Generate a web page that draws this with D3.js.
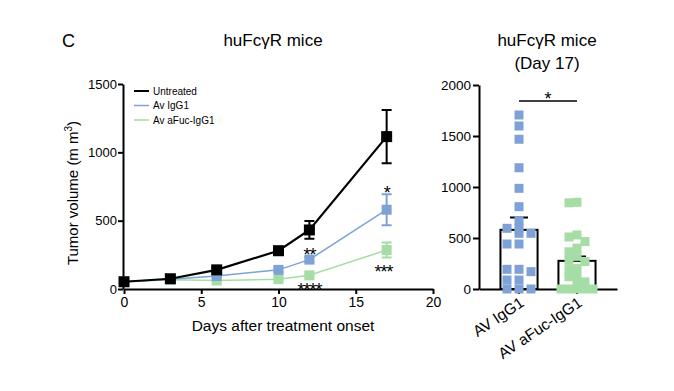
<!DOCTYPE html>
<html>
<head>
<meta charset="utf-8">
<script src="https://cdn.jsdelivr.net/npm/d3@7"></script>
<style>
body { margin: 0; background: #fff; }
svg { font-family: "Liberation Sans", Arial, sans-serif; }
.axis path, .axis line { stroke: #000; stroke-width: 2; }
.axis text { fill: #000; }
</style>
</head>
<body>
<div id="chart"></div>
<script>
// left panel: growth curves
var days = [0, 3, 6, 10, 12, 17];
var untreated = [53, 75, 140, 280, 432, 1115];
var untreatedErr = [8, 10, 15, 30, 65, 195];
var avIgG1 = [53, 72, 95, 140, 215, 580];
var avIgG1Err = [5, 8, 10, 15, 20, 113];
var avAfuc = [53, 68, 62, 72, 100, 285];
var avAfucErr = [5, 5, 8, 8, 10, 55];
var seriesNames = ["Untreated", "Av IgG1", "Av aFuc-IgG1"];
var xTicks = [0, 5, 10, 15, 20];
var yTicks = [0, 500, 1000, 1500];
var stars = [
    {day: 12, value: 290, text: "**"},
    {day: 17, value: 745, text: "*"},
    {day: 16.8, value: 165, text: "***"},
    {day: 12, value: 38, text: "****"}
];

// right panel: day 17
var groups = ["AV IgG1", "AV aFuc-IgG1"];
var groupMeans = [580, 276];
var groupSem = [120, 42];
var igg1Points = [1706, 1598, 1468, 1189, 987, 807, 670, 595, 595, 546, 546, 441, 441, 193, 193, 170, 88, 88, 0, 0, 0];
var afucPoints = [850, 845, 530, 510, 465, 400, 365, 320, 280, 270, 200, 190, 130, 120, 70, 60, 0, 0, 0, 0, 0];
var rightTicks = [0, 500, 1000, 1500, 2000];

var black = "#000", blue = "#7ea2d6", green = "#a6dda6";
var colors = [black, blue, green];
var fmt = d3.format("d");

var svg = d3.select("#chart").append("svg")
    .attr("width", 674)
    .attr("height", 391);

svg.append("text").attr("x", 62).attr("y", 47)
    .style("font-size", "18px").text("C");

// ---------- left chart ----------
var x = d3.scaleLinear().domain([0, 20]).range([124, 433]);
var y = d3.scaleLinear().domain([0, 1500]).range([289, 84]);

svg.append("text").attr("x", 273).attr("y", 46)
    .attr("text-anchor", "middle").style("font-size", "17px").text("huFcγR mice");

svg.append("g").attr("class", "axis")
    .attr("transform", "translate(0,289)")
    .call(d3.axisBottom(x).tickValues(xTicks).tickFormat(fmt).tickSize(5).tickSizeOuter(0).tickPadding(3))
    .selectAll("text").style("font-size", "14px");

svg.append("g").attr("class", "axis")
    .attr("transform", "translate(123,0)")
    .call(d3.axisLeft(y).tickValues(yTicks).tickFormat(fmt).tickSize(5).tickSizeOuter(0).tickPadding(1))
    .selectAll("text").style("font-size", "13px");

svg.append("text")
    .attr("transform", "translate(78,193) rotate(-90)")
    .attr("text-anchor", "middle").style("font-size", "15px")
    .html("Tumor volume (m m<tspan dy='-6' font-size='10px'>3</tspan><tspan dy='6'>)</tspan>");

svg.append("text").attr("x", 283).attr("y", 331)
    .attr("text-anchor", "middle").style("font-size", "15.5px")
    .text("Days after treatment onset");

var series = [
    {vals: avAfuc, err: avAfucErr, color: green, width: 1.5, size: 10},
    {vals: avIgG1, err: avIgG1Err, color: blue, width: 1.5, size: 10},
    {vals: untreated, err: untreatedErr, color: black, width: 2.2, size: 11}
];

var line = d3.line()
    .x(function(d) { return x(d.day); })
    .y(function(d) { return y(d.v); });

series.forEach(function(s) {
    var pts = days.map(function(d, i) { return {day: d, v: s.vals[i], e: s.err[i]}; });
    var g = svg.append("g");
    g.append("path").datum(pts)
        .attr("d", line)
        .attr("fill", "none")
        .attr("stroke", s.color)
        .attr("stroke-width", s.width);
    g.selectAll(".err").data(pts).enter().append("path")
        .attr("d", function(d) {
            var cx = x(d.day), t = y(d.v + d.e), b = y(d.v - d.e);
            return "M" + cx + "," + t + "V" + b + "M" + (cx - 5) + "," + t + "H" + (cx + 5) +
                "M" + (cx - 5) + "," + b + "H" + (cx + 5);
        })
        .attr("stroke", s.color).attr("stroke-width", 2).attr("fill", "none");
    g.selectAll("rect").data(pts).enter().append("rect")
        .attr("x", function(d) { return x(d.day) - s.size / 2; })
        .attr("y", function(d) { return y(d.v) - s.size / 2; })
        .attr("width", s.size).attr("height", s.size)
        .attr("fill", s.color);
});

svg.selectAll(".star").data(stars).enter().append("text")
    .attr("x", function(d) { return x(d.day); })
    .attr("y", function(d) { return y(d.value); })
    .attr("dy", "0.65em")
    .attr("text-anchor", "middle")
    .style("font-size", "18px")
    .style("letter-spacing", "-1px")
    .text(function(d) { return d.text; });

// legend
seriesNames.forEach(function(name, i) {
    var ly = 91 + i * 14.5;
    svg.append("line").attr("x1", 134).attr("x2", 149)
        .attr("y1", ly).attr("y2", ly)
        .attr("stroke", colors[i]).attr("stroke-width", i == 0 ? 2 : 1.5);
    svg.append("text").attr("x", 153).attr("y", ly + 3.5)
        .style("font-size", "10px").text(name);
});

// ---------- right chart ----------
svg.append("text").attr("x", 547).attr("y", 46)
    .attr("text-anchor", "middle").style("font-size", "17px").text("huFcγR mice");
svg.append("text").attr("x", 547).attr("y", 69)
    .attr("text-anchor", "middle").style("font-size", "17px").text("(Day 17)");

var xb = d3.scaleBand().domain(groups).range([479, 617])
    .paddingInner(0.36).paddingOuter(0.37);
var y2 = d3.scaleLinear().domain([0, 2000]).range([289, 85]);

svg.append("g").attr("class", "axis")
    .attr("transform", "translate(479,0)")
    .call(d3.axisLeft(y2).tickValues(rightTicks).tickFormat(fmt).tickSize(6).tickSizeOuter(0).tickPadding(2))
    .selectAll("text").style("font-size", "13.5px");

var xAxisR = svg.append("g").attr("class", "axis")
    .attr("transform", "translate(0,289)")
    .call(d3.axisBottom(xb).tickSize(5).tickSizeOuter(0));
xAxisR.selectAll("text")
    .style("font-size", "15.5px")
    .attr("text-anchor", "end")
    .attr("x", -4).attr("y", 6).attr("dy", "0.7em")
    .attr("transform", "rotate(-34)");

var bw = xb.bandwidth();
groups.forEach(function(gname, i) {
    var cx = xb(gname) + bw / 2;
    svg.append("rect")
        .attr("x", xb(gname)).attr("y", y2(groupMeans[i]))
        .attr("width", bw).attr("height", y2(0) - y2(groupMeans[i]))
        .attr("fill", "none").attr("stroke", "#000").attr("stroke-width", 2);
    var top = y2(groupMeans[i] + groupSem[i]);
    svg.append("path")
        .attr("d", "M" + cx + "," + y2(groupMeans[i]) + "V" + top + "M" + (cx - 9) + "," + top + "H" + (cx + 9))
        .attr("stroke", "#000").attr("stroke-width", 2).attr("fill", "none");
});

// spread points sideways so they don't sit on top of each other,
// staying within the bar; if every slot is taken pick the least crowded
function dodge(values, step, size, maxSlot) {
    var placed = [];
    var sorted = values.slice().sort(function(a, b) { return b - a; });
    var offs = [0];
    for (var s = 1; s <= maxSlot; s++) { offs.push(-s, s); }
    sorted.forEach(function(v) {
        var py = y2(v);
        var best = null, bestHits = 1e9;
        for (var k = 0; k < offs.length; k++) {
            var dx = offs[k] * step;
            var hits = placed.filter(function(p) {
                return Math.abs(p.dx - dx) < size && Math.abs(p.py - py) < size;
            }).length;
            if (hits < bestHits) { best = dx; bestHits = hits; }
            if (hits == 0) break;
        }
        placed.push({v: v, dx: best, py: py});
    });
    return placed;
}

[[igg1Points, blue, 12, 1], [afucPoints, green, 8, 2]].forEach(function(pair, i) {
    var cx = xb(groups[i]) + bw / 2;
    var pts = dodge(pair[0], pair[2], 7, pair[3]);
    svg.append("g").selectAll("rect").data(pts).enter().append("rect")
        .attr("x", function(d) { return cx + d.dx - 4.5; })
        .attr("y", function(d) { return d.py - 4.5; })
        .attr("width", 9).attr("height", 9)
        .attr("fill", pair[1]);
});

// significance bracket
var c1 = xb(groups[0]) + bw / 2, c2 = xb(groups[1]) + bw / 2;
svg.append("line").attr("x1", c1).attr("x2", c2)
    .attr("y1", 101).attr("y2", 101)
    .attr("stroke", "#000").attr("stroke-width", 1.5);
svg.append("text").attr("x", (c1 + c2) / 2).attr("y", 93)
    .attr("dy", "0.65em").attr("text-anchor", "middle")
    .style("font-size", "18px").text("*");
</script>
</body>
</html>
